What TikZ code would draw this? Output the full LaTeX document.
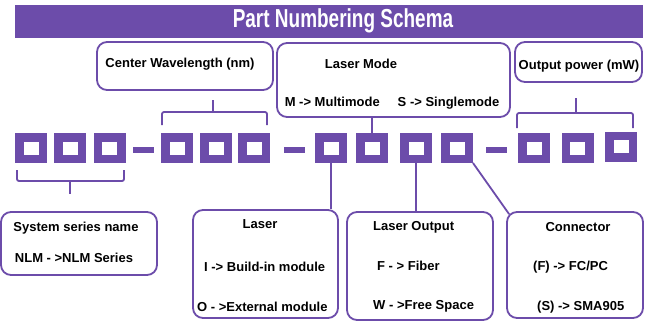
\documentclass[tikz,border=0pt]{standalone}
\usepackage{fontspec}
\usepackage{graphicx}
\setmainfont{Liberation Sans}
\definecolor{schemapurple}{RGB}{108,76,170}
\tikzset{
    digit/.style={draw=schemapurple, line width=8.5pt, fill=white, minimum width=23.5pt, minimum height=21.5pt, inner sep=0pt},
    sep/.style={fill=schemapurple, minimum width=21pt, minimum height=5.5pt, inner sep=0pt},
    infobox/.style={draw=schemapurple, line width=1.8pt, rounded corners=10pt, inner sep=0pt},
    txt/.style={font={\fontsize{13}{15}\selectfont\bfseries}, black, inner sep=0pt},
    brace/.style={draw=schemapurple, line width=1.8pt, rounded corners=2pt},
    link/.style={draw=schemapurple, line width=1.8pt},
}

\begin{document}
\begin{tikzpicture}[x=1pt, y=-1pt]
    \useasboundingbox (0,0) rectangle (651,322);
    % title
    \node[fill=schemapurple, minimum width=628pt, minimum height=33pt, inner sep=0pt] (titlebar) at (329,21.5) {};
    \node[font={\fontsize{26}{30}\selectfont\bfseries}, white, inner sep=0pt] (title) at (343,21) {\scalebox{0.73}[1]{Part Numbering Schema}};
    % digits
    \node[digit] (d1) at (31,148) {};
    \node[digit] (d2) at (70,148) {};
    \node[digit] (d3) at (109.5,148) {};
    \node[sep] (s1) at (143.5,150) {};
    \node[digit] (d4) at (177,148) {};
    \node[digit] (d5) at (216,148) {};
    \node[digit] (d6) at (254,148) {};
    \node[sep] (s2) at (294,150) {};
    \node[digit] (d7) at (331,148) {};
    \node[digit] (d8) at (372,148) {};
    \node[digit] (d9) at (416,148) {};
    \node[digit] (d10) at (457,148) {};
    \node[sep] (s3) at (496,150) {};
    \node[digit] (d11) at (534,148) {};
    \node[digit] (d12) at (577.5,148) {};
    \node[digit] (d13) at (621,146.5) {};
    % boxes above
    \node[infobox, minimum width=176pt, minimum height=48pt] (cw) at (185,66) {};
    \node[txt] (cwtxt) at (180,64) {Center Wavelength (nm)};
    \node[infobox, minimum width=233pt, minimum height=74pt] (lmode) at (393.5,80) {};
    \node[txt] (lmodetitle) at (361,64) {Laser Mode};
    \node[txt] (lmodecodes) at (392,103) {M -> Multimode\hspace{18pt}S -> Singlemode};
    \node[infobox, minimum width=127pt, minimum height=40pt] (opow) at (578.5,62) {};
    \node[txt] (opowtxt) at (579,66) {Output power (mW)};
    % boxes below
    \node[infobox, minimum width=156pt, minimum height=63pt] (series) at (79,243.5) {};
    \node[txt] (seriestitle) at (76,228) {System series name};
    \node[txt] (seriescode) at (74,258) {NLM - >NLM Series};
    \node[infobox, minimum width=145pt, minimum height=108pt] (laser) at (265.5,264) {};
    \node[txt] (lasertitle) at (260,224) {Laser};
    \node[txt, anchor=west] (lasercodei) at (204,267) {I -> Build-in module};
    \node[txt, anchor=west] (lasercodeo) at (197,307) {O - >External module};
    \node[infobox, minimum width=146pt, minimum height=108pt] (lout) at (420,266) {};
    \node[txt, anchor=west] (louttitle) at (373,227) {Laser Output};
    \node[txt, anchor=west] (loutcodef) at (377,266) {F - > Fiber};
    \node[txt, anchor=west] (loutcodew) at (373,306) {W - >Free Space};
    \node[infobox, minimum width=136pt, minimum height=106pt] (conn) at (575,265) {};
    \node[txt] (conntitle) at (578,227) {Connector};
    \node[txt, anchor=west] (conncodef) at (533,267) {(F) -> FC/PC};
    \node[txt, anchor=west] (conncodes) at (537,307) {(S) -> SMA905};
    % brackets
    \draw[brace] (17,170) |- (124,181) -- (124,170);
    \draw[brace] (70,181) -- (70,194);
    \draw[brace] (162,125) |- (267,112) -- (267,125);
    \draw[brace] (213,112) -- (213,100);
    \draw[brace] (517,128) |- (633,113) -- (633,128);
    \draw[brace] (576,113) -- (576,98);
    % connectors
    \draw[link] (d8.north) -- (d8.north |- lmode.south);
    \draw[link] (d7.south) -- (d7.south |- laser.north);
    \draw[link] (d9.south) -- (d9.south |- lout.north);
    \draw[link] (d10.south east) -- ([xshift=3pt,yshift=-3pt]conn.north west);
\end{tikzpicture}
\end{document}
